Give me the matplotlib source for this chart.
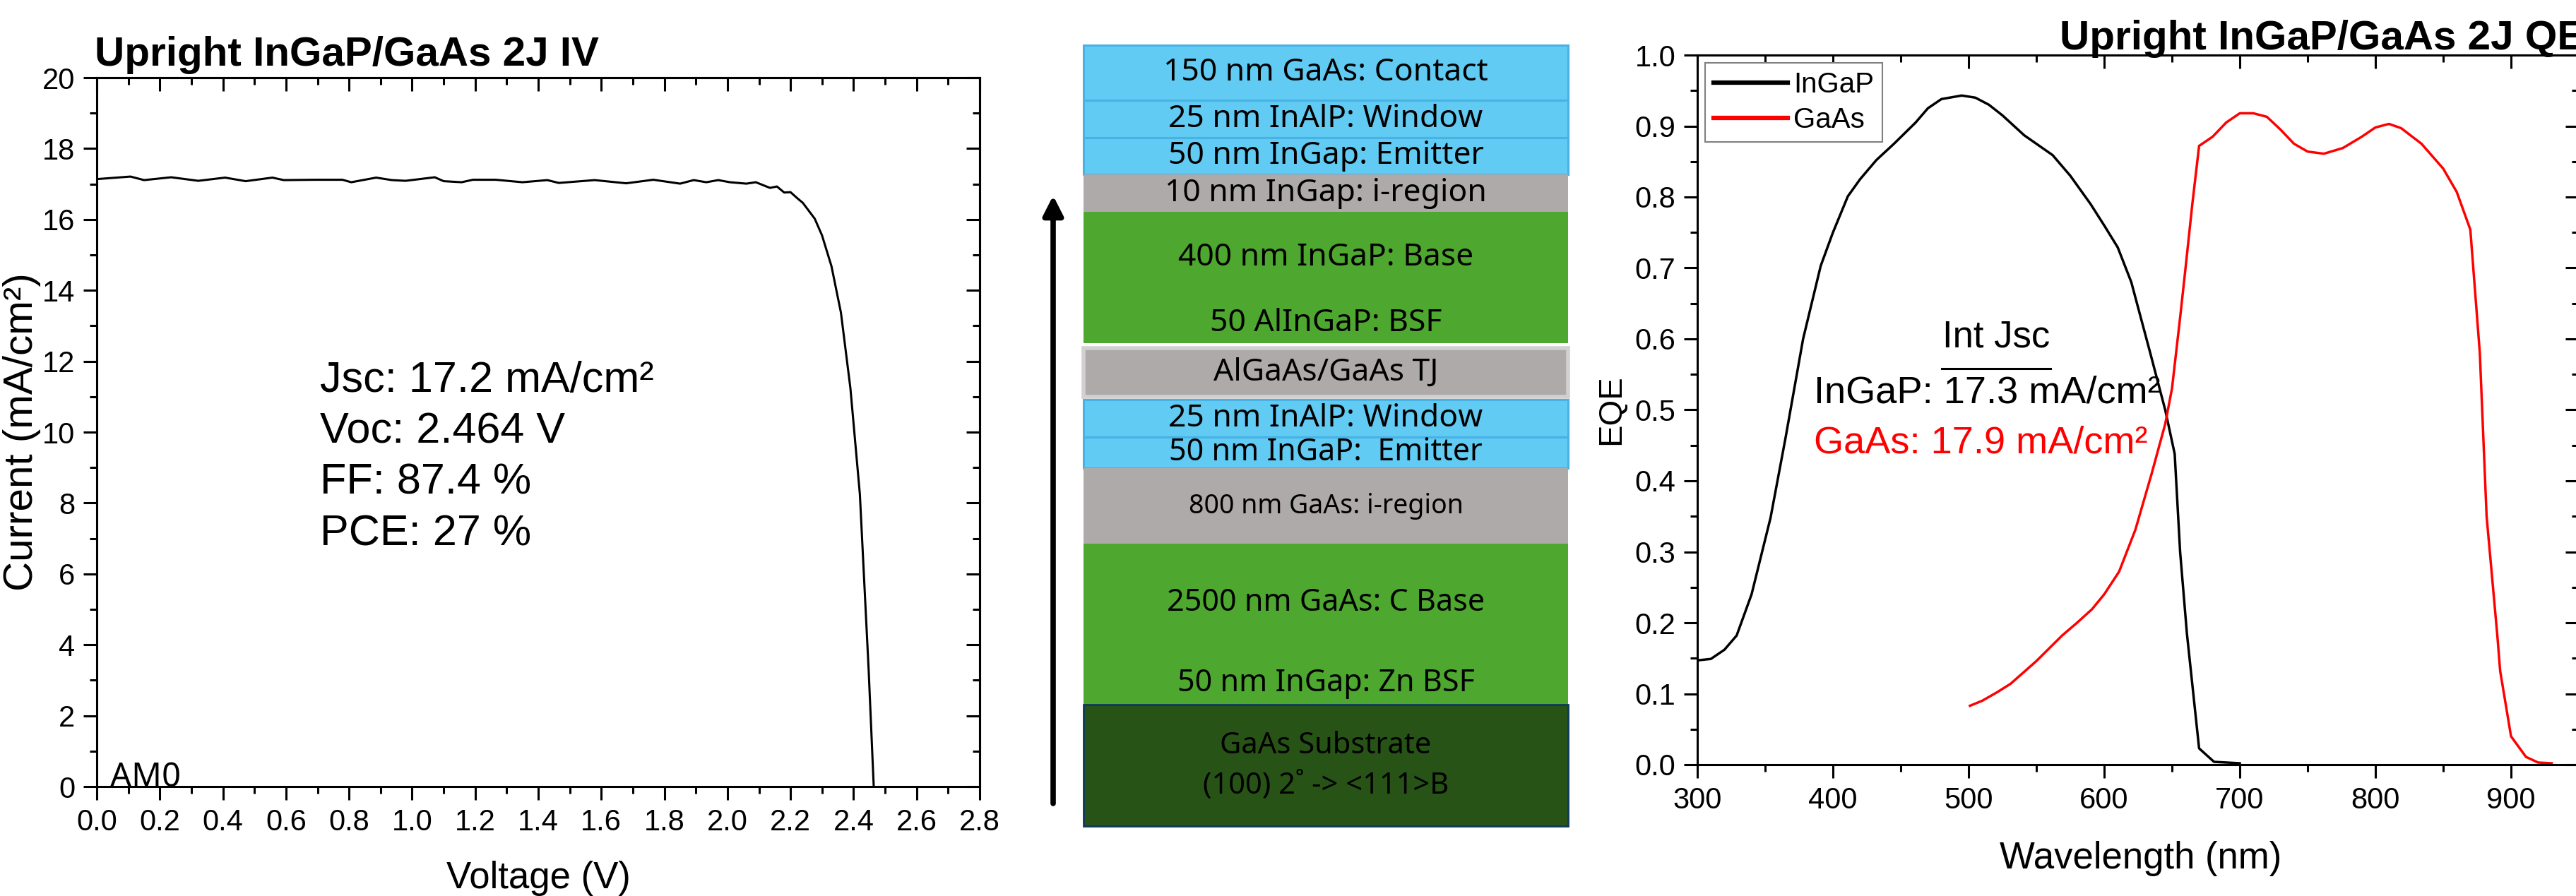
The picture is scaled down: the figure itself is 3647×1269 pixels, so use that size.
import matplotlib
matplotlib.use("Agg")
import matplotlib.pyplot as plt
from matplotlib.ticker import MultipleLocator

plt.rcParams['font.family'] = ['Liberation Sans', 'DejaVu Sans']

# IV curve (AM0)
iv_v = [0.0, 0.003, 0.107, 0.15, 0.236, 0.322, 0.407, 0.472, 0.557, 0.593, 0.693,
        0.779, 0.807, 0.886, 0.936, 0.979, 1.072, 1.1, 1.157, 1.193, 1.265, 1.35,
        1.429, 1.465, 1.579, 1.679, 1.765, 1.85, 1.893, 1.933, 1.971, 2.008, 2.06,
        2.09, 2.135, 2.157, 2.18, 2.20, 2.224, 2.239, 2.277, 2.30, 2.33, 2.36, 2.39,
        2.42, 2.448, 2.464]
iv_j = [17.14, 17.14, 17.21, 17.11, 17.19, 17.09, 17.18, 17.08, 17.18, 17.11, 17.12,
        17.12, 17.05, 17.18, 17.11, 17.09, 17.19, 17.08, 17.05, 17.12, 17.12, 17.05,
        17.11, 17.03, 17.11, 17.02, 17.12, 17.01, 17.11, 17.05, 17.11, 17.05, 17.01,
        17.05, 16.89, 16.93, 16.76, 16.77, 16.58, 16.47, 16.02, 15.55, 14.68, 13.37, 11.24,
        8.25, 3.27, 0.0]
iv_stats = ["Jsc: 17.2 mA/cm\u00b2", "Voc: 2.464 V", "FF: 87.4 %", "PCE: 27 %"]

# EQE curves
ingap_wl = [300, 310, 320, 329, 340, 354, 365, 378, 391, 400, 411, 420, 432, 445, 461,
            470, 480, 495, 505, 515, 525, 541, 550, 562, 575, 590, 600, 610, 620, 627,
            634, 645, 652, 656, 661, 670, 681, 700]
ingap_eqe = [0.147, 0.149, 0.162, 0.182, 0.24, 0.348, 0.46, 0.60, 0.703, 0.75, 0.801,
             0.825, 0.852, 0.875, 0.905, 0.925, 0.938, 0.943, 0.94, 0.93, 0.915, 0.887,
             0.875, 0.859, 0.83, 0.79, 0.76, 0.729, 0.68, 0.63, 0.58, 0.50, 0.438, 0.30,
             0.185, 0.023, 0.004, 0.002]
gaas_wl = [501, 510, 521, 531, 550, 569, 580, 591, 600, 611, 623, 635, 645, 650, 656,
           660, 665, 670, 680, 690, 700, 710, 720, 730, 740, 750, 762, 776, 790, 800,
           810, 819, 834, 850, 860, 870, 877, 882, 890, 892, 900, 911, 920, 930]
gaas_eqe = [0.083, 0.09, 0.102, 0.114, 0.146, 0.182, 0.20, 0.219, 0.24, 0.272, 0.331,
            0.41, 0.48, 0.53, 0.63, 0.70, 0.79, 0.872, 0.885, 0.905, 0.918, 0.918, 0.913,
            0.895, 0.875, 0.864, 0.861, 0.869, 0.885, 0.898, 0.903, 0.897, 0.875, 0.84,
            0.807, 0.754, 0.58, 0.35, 0.18, 0.132, 0.04, 0.011, 0.003, 0.002]
int_jsc = ["InGaP: 17.3 mA/cm\u00b2", "GaAs: 17.9 mA/cm\u00b2"]

# device stack, top to bottom (drawn heights in px)
layer_names = ["150 nm GaAs: Contact", "25 nm InAlP: Window", "50 nm InGap: Emitter",
               "10 nm InGap: i-region", "400 nm InGaP: Base", "50 AlInGaP: BSF",
               "AlGaAs/GaAs TJ", "25 nm InAlP: Window", "50 nm InGaP:  Emitter",
               "800 nm GaAs: i-region", "2500 nm GaAs: C Base", "50 nm InGap: Zn BSF",
               "GaAs Substrate\n(100) 2\u02da -> <111>B"]
layer_h = [78, 53, 52, 53, 130, 56, 69, 53, 44, 107, 168, 60, 172]
layer_gap = [0, 0, 0, 0, 0, 0, 7, 4, 0, 0, 0, 0, 0]
layer_kind = ["blue", "blue", "blue", "gray", "green", "green", "tj",
              "blue", "blue", "gray", "green", "green", "sub"]
layer_fs = [32, 32, 32, 32, 32, 32, 32, 32, 31, 27, 31, 31, 30]

fill = {"blue": "#61CBF3", "gray": "#AEAAAA", "green": "#4EA72E", "tj": "#AEAAAA", "sub": "#275317"}
edge = {"blue": "#47B2E4", "gray": "none", "green": "none", "tj": "#D2D0D0", "sub": "#0E3A5C"}
edge_w = {"blue": 2.2, "gray": 0, "green": 0, "tj": 4, "sub": 2}

W, H = 3648, 1269
fig = plt.figure(figsize=(W / 100, H / 100), dpi=100)


def inner_ticks(ax, xmaj, xmin, ymaj, ymin):
    top = ax.secondary_xaxis('top')
    right = ax.secondary_yaxis('right')
    top.xaxis.set_major_locator(MultipleLocator(xmaj))
    top.xaxis.set_minor_locator(MultipleLocator(xmin))
    right.yaxis.set_major_locator(MultipleLocator(ymaj))
    right.yaxis.set_minor_locator(MultipleLocator(ymin))
    top.tick_params(which='both', direction='in', labeltop=False, width=2.2)
    right.tick_params(which='both', direction='in', labelright=False, width=2.2)
    for a in (top, right):
        a.tick_params(which='major', length=14)
        a.tick_params(which='minor', length=7)
        for s in a.spines.values():
            s.set_linewidth(2.2)


def style(ax, xmaj, xmin, ymaj, ymin):
    ax.xaxis.set_major_locator(MultipleLocator(xmaj))
    ax.xaxis.set_minor_locator(MultipleLocator(xmin))
    ax.yaxis.set_major_locator(MultipleLocator(ymaj))
    ax.yaxis.set_minor_locator(MultipleLocator(ymin))
    ax.tick_params(which='both', direction='out', width=2.2, labelsize=30, pad=8)
    ax.tick_params(which='major', length=14)
    ax.tick_params(which='minor', length=7)
    for s in ax.spines.values():
        s.set_linewidth(2.2)
    inner_ticks(ax, xmaj, xmin, ymaj, ymin)


# ---- IV panel
ax1 = fig.add_axes([137 / W, 1 - 1114 / H, 1250 / W, 1004 / H])
ax1.plot(iv_v, iv_j, color='black', lw=2.2)
ax1.set_xlim(0, 2.8)
ax1.set_ylim(0, 20)
style(ax1, 0.2, 0.1, 2, 1)
ax1.xaxis.set_major_formatter(lambda v, p: f"{v:.1f}")
ax1.set_xlabel("Voltage (V)", fontsize=38, va='baseline')
ax1.set_ylabel("Current (mA/cm\u00b2)", fontsize=42)
ax1.xaxis.set_label_coords(0.5, -0.143)
ax1.yaxis.set_label_coords(-0.063, 0.5)
for i, s in enumerate(iv_stats):
    ax1.text(0.253, 0.572 - i * 0.072, s, transform=ax1.transAxes, fontsize=44, va='center')
ax1.text(0.015, 0.0, "AM0", transform=ax1.transAxes, fontsize=34, va='baseline',
         family=['Noto Sans', 'DejaVu Sans'])
fig.text(134 / W, 1 - 93 / H, "Upright InGaP/GaAs 2J IV", fontsize=42, fontweight='bold',
         va='baseline')

# ---- QE panel
ax2 = fig.add_axes([2403 / W, 1 - 1083 / H, 1248 / W, 1005 / H])
ax2.plot(ingap_wl, ingap_eqe, color='black', lw=2.5, label='InGaP')
ax2.plot(gaas_wl, gaas_eqe, color='red', lw=2.5, label='GaAs')
ax2.set_xlim(300, 950)
ax2.set_ylim(0, 1.0)
style(ax2, 100, 50, 0.1, 0.05)
ax2.yaxis.set_major_formatter(lambda v, p: f"{v:.1f}")
ax2.set_xlabel("Wavelength (nm)", fontsize=38, va='baseline')
ax2.set_ylabel("EQE", fontsize=34)
ax2.xaxis.set_label_coords(0.503, -0.146)
ax2.yaxis.set_label_coords(-0.08, 0.5)
leg = ax2.legend(loc='upper left', bbox_to_anchor=(0.009, 0.989), borderaxespad=0,
                 fancybox=False, edgecolor='#808080', framealpha=1, fontsize=29,
                 handlelength=2.6, handletextpad=0.2, labelspacing=0.3, borderpad=0.3)
leg.get_frame().set_linewidth(1.5)
for ln in leg.get_lines():
    ln.set_linewidth(4.5)
ax2.text(0.339, 0.602, "Int Jsc", transform=ax2.transAxes, fontsize=38, ha='center',
         va='center')
ax2.plot([0.277, 0.401], [0.558, 0.558], transform=ax2.transAxes, color='black', lw=2.2)
for i, (s, c) in enumerate(zip(int_jsc, ['black', 'red'])):
    ax2.text(0.132, 0.524 - i * 0.071, s, transform=ax2.transAxes, fontsize=39,
             va='center', color=c)
fig.text(2916 / W, 1 - 70 / H, "Upright InGaP/GaAs 2J QE", fontsize=42, fontweight='bold',
         va='baseline')

# ---- layer stack
axs = fig.add_axes([0, 0, 1, 1], zorder=-1)
axs.set_xlim(0, W)
axs.set_ylim(H, 0)
axs.axis('off')
y = 64
for name, h, g, k, fs in zip(layer_names, layer_h, layer_gap, layer_kind, layer_fs):
    y += g
    axs.barh(y + h / 2, 686, left=1534, height=h, color=fill[k], edgecolor=edge[k],
             linewidth=edge_w[k])
    axs.text(1534 + 343, y + h / 2, name, ha='center', va='center', fontsize=fs,
             family=['Noto Sans', 'DejaVu Sans'], linespacing=1.45)
    y += h
axs.annotate('', xy=(1491, 277), xytext=(1491, 1138),
             arrowprops=dict(arrowstyle='-|>,head_length=0.83,head_width=0.42',
                             mutation_scale=20, lw=5.5, color='black',
                             shrinkA=0, shrinkB=0))

fig.savefig("out.png", dpi=100)
